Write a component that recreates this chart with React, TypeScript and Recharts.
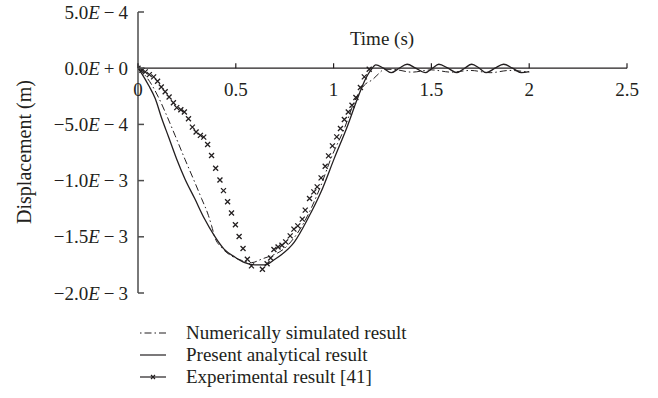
import { LineChart, Line, XAxis, YAxis, ReferenceLine } from "recharts";

const FONT = '"Liberation Serif", "Times New Roman", serif';
const INK = "#231f20";
const AXIS = "#4d4d4d";

// axis ticks
const xTicks = [0, 0.5, 1, 1.5, 2, 2.5];
const xTickLabels = ["0", "0.5", "1", "1.5", "2", "2.5"];
const yTicks = [5e-4, 0, -5e-4, -1e-3, -1.5e-3, -2e-3];
const yMantissa = ["5.0", "0.0", "\u22125.0", "\u22121.0", "\u22121.5", "\u22122.0"];
const ySign = ["\u2212", "+", "\u2212", "\u2212", "\u2212", "\u2212"];
const yExp = ["4", "0", "4", "3", "3", "3"];

// present analytical result (solid)
const analyticalT = [
  0, 0.02, 0.054, 0.088, 0.122, 0.156, 0.198, 0.24, 0.29, 0.34, 0.39, 0.44,
  0.495, 0.546, 0.597, 0.647, 0.7, 0.733, 0.8, 0.868, 0.936, 1.004, 1.072,
  1.122, 1.165, 1.19, 1.216, 1.255, 1.295, 1.335, 1.376, 1.42, 1.47, 1.505,
  1.538, 1.585, 1.63, 1.67, 1.706, 1.745, 1.78, 1.825, 1.869, 1.915, 1.96, 2.0,
];
const analyticalV = [
  0, -0.05e-3, -0.152e-3, -0.27e-3, -0.45e-3, -0.61e-3, -0.81e-3, -0.985e-3,
  -1.16e-3, -1.34e-3, -1.49e-3, -1.61e-3, -1.68e-3, -1.73e-3, -1.75e-3,
  -1.75e-3, -1.7e-3, -1.66e-3, -1.545e-3, -1.34e-3, -1.1e-3, -0.8e-3,
  -0.51e-3, -0.27e-3, -0.09e-3, -0.018e-3, 0.03e-3, 0, -0.04e-3, 0, 0.035e-3,
  0, -0.04e-3, 0, 0.035e-3, 0, -0.04e-3, 0, 0.035e-3, 0, -0.04e-3, 0,
  0.035e-3, 0, -0.04e-3, -0.03e-3,
];

// numerically simulated result (dash-dot)
const numericalT = [
  0, 0.035, 0.071, 0.105, 0.139, 0.19, 0.24, 0.283, 0.325, 0.36, 0.376, 0.393,
  0.427, 0.478, 0.53, 0.58, 0.63, 0.766, 0.851, 0.936, 0.987, 1.055, 1.106,
  1.157, 1.2, 1.23, 1.26, 1.3, 1.4, 1.5, 1.6, 1.7, 1.8, 1.9, 2.0,
];
const numericalV = [
  0, -0.06e-3, -0.15e-3, -0.26e-3, -0.39e-3, -0.6e-3, -0.81e-3, -0.985e-3,
  -1.16e-3, -1.31e-3, -1.4e-3, -1.505e-3, -1.595e-3, -1.67e-3, -1.71e-3,
  -1.73e-3, -1.7e-3, -1.575e-3, -1.365e-3, -1.04e-3, -0.8e-3, -0.536e-3,
  -0.3e-3, -0.151e-3, -0.1e-3, -0.05e-3, -0.01e-3, -0.01e-3, -0.035e-3,
  -0.015e-3, -0.035e-3, -0.02e-3, -0.04e-3, -0.02e-3, -0.035e-3,
];

// experimental result [41] (x markers)
const experimentT = [
  0, 0.02, 0.037, 0.058, 0.08, 0.1, 0.119, 0.139, 0.159, 0.181, 0.198, 0.219,
  0.237, 0.258, 0.278, 0.297, 0.319, 0.336, 0.356, 0.376, 0.397, 0.419, 0.437,
  0.458, 0.478, 0.498, 0.517, 0.537, 0.559, 0.58, 0.636, 0.66, 0.678, 0.695,
  0.716, 0.736, 0.755, 0.778, 0.797, 0.817, 0.84, 0.855, 0.877, 0.899, 0.916,
  0.936, 0.957, 0.974, 0.994, 1.016, 1.035, 1.055, 1.075, 1.094, 1.114, 1.137,
  1.157, 1.182,
];
const experimentV = [
  0, -0.018e-3, -0.033e-3, -0.057e-3, -0.077e-3, -0.116e-3, -0.167e-3,
  -0.21e-3, -0.256e-3, -0.307e-3, -0.351e-3, -0.369e-3, -0.39e-3, -0.449e-3,
  -0.524e-3, -0.568e-3, -0.598e-3, -0.613e-3, -0.679e-3, -0.777e-3, -0.89e-3,
  -0.994e-3, -1.089e-3, -1.188e-3, -1.289e-3, -1.393e-3, -1.497e-3, -1.604e-3,
  -1.7e-3, -1.759e-3, -1.789e-3, -1.74e-3, -1.688e-3, -1.613e-3, -1.59e-3,
  -1.575e-3, -1.545e-3, -1.492e-3, -1.432e-3, -1.403e-3, -1.343e-3, -1.263e-3,
  -1.159e-3, -1.1e-3, -1.056e-3, -0.976e-3, -0.872e-3, -0.78e-3, -0.691e-3,
  -0.611e-3, -0.536e-3, -0.456e-3, -0.389e-3, -0.329e-3, -0.261e-3, -0.172e-3,
  -0.077e-3, -0.009e-3,
];

const toPoints = (ts: number[], vs: number[]) =>
  ts.map((t, i) => ({ t, v: vs[i] }));

const analytical = toPoints(analyticalT, analyticalV);
const numerical = toPoints(numericalT, numericalV);
const experiment = toPoints(experimentT, experimentV);

const W = 658;
const H = 398;
const PLOT_TOP = 12;
const PLOT_BOTTOM = 293;
const Y_MIN = -2e-3;
const Y_MAX = 5e-4;
const ZERO_Y =
  PLOT_TOP + (PLOT_BOTTOM - PLOT_TOP) * (Y_MAX / (Y_MAX - Y_MIN));
const FS = 19;

function XTick({ x, payload }: any) {
  const i = xTicks.indexOf(payload.value);
  return (
    <g>
      <line x1={x} x2={x} y1={ZERO_Y} y2={ZERO_Y - 5} stroke={INK} strokeWidth={1.2} />
      <text
        x={x}
        y={ZERO_Y + 28}
        textAnchor="middle"
        fontFamily={FONT}
        fontSize={FS}
        fill={INK}
      >
        {xTickLabels[i]}
      </text>
    </g>
  );
}

function YTick({ x, y, payload }: any) {
  const i = yTicks.findIndex((v) => Math.abs(v - payload.value) < 1e-9);
  return (
    <g>
      <line x1={x} x2={x + 6} y1={y} y2={y} stroke={AXIS} strokeWidth={1.5} />
      <text
        x={x - 10}
        y={y + 6.5}
        textAnchor="end"
        fontFamily={FONT}
        fontSize={FS}
        fill={INK}
      >
        {yMantissa[i]}
        <tspan fontStyle="italic">E</tspan>
        <tspan dx={4}>{ySign[i]}</tspan>
        <tspan dx={4}>{yExp[i]}</tspan>
      </text>
    </g>
  );
}

function Cross({ cx, cy, index }: any) {
  const s = 2.5;
  return (
    <path
      key={`x-${index}`}
      d={`M${cx - s},${cy - s}L${cx + s},${cy + s}M${cx - s},${cy + s}L${cx + s},${cy - s}`}
      stroke={INK}
      strokeWidth={1.3}
      fill="none"
    />
  );
}

const legendRows = [
  { label: "Numerically simulated result", kind: "dashdot" },
  { label: "Present analytical result", kind: "solid" },
  { label: "Experimental result [41]", kind: "cross" },
];

function LegendIcon({ kind }: { kind: string }) {
  return (
    <svg width={30} height={12} style={{ display: "block" }}>
      <line
        x1={2}
        x2={28}
        y1={6}
        y2={6}
        stroke={INK}
        strokeWidth={1.2}
        strokeDasharray={kind === "dashdot" ? "1.5 3 7 3" : undefined}
      />
      {kind === "cross" && (
        <path d="M13,4L17,8M13,8L17,4" stroke={INK} strokeWidth={1.2} />
      )}
    </svg>
  );
}

export default function App() {
  return (
    <div
      style={{
        position: "absolute",
        left: 0,
        top: 0,
        width: W,
        height: H,
        background: "#fff",
        fontFamily: FONT,
        color: INK,
      }}
    >
      <LineChart
        width={W}
        height={H}
        margin={{ top: PLOT_TOP, right: 31, bottom: H - PLOT_BOTTOM - 20, left: 0 }}
      >
        <XAxis
          dataKey="t"
          type="number"
          domain={[0, 2.5]}
          ticks={xTicks}
          interval={0}
          height={20}
          axisLine={false}
          tickLine={false}
          tick={<XTick />}
          allowDataOverflow
        />
        <YAxis
          type="number"
          domain={[Y_MIN, Y_MAX]}
          ticks={yTicks}
          interval={0}
          width={138}
          tickSize={0}
          tickMargin={0}
          tickLine={false}
          axisLine={{ stroke: AXIS, strokeWidth: 1.5 }}
          tick={<YTick />}
          allowDataOverflow
        />
        <ReferenceLine y={0} stroke={INK} strokeWidth={1.2} />
        <Line
          data={numerical}
          dataKey="v"
          type="monotone"
          stroke={INK}
          strokeWidth={1}
          strokeDasharray="7 3 1.5 3"
          dot={false}
          isAnimationActive={false}
        />
        <Line
          data={analytical}
          dataKey="v"
          type="monotone"
          stroke={INK}
          strokeWidth={1.3}
          dot={false}
          isAnimationActive={false}
        />
        <Line
          data={experiment}
          dataKey="v"
          stroke="none"
          dot={<Cross />}
          isAnimationActive={false}
        />
      </LineChart>

      <div
        style={{
          position: "absolute",
          left: 382,
          top: 28,
          transform: "translateX(-50%)",
          fontSize: FS,
          whiteSpace: "nowrap",
        }}
      >
        Time (s)
      </div>

      <div
        style={{
          position: "absolute",
          left: 24,
          top: 152,
          transform: "translate(-50%, -50%) rotate(-90deg)",
          fontSize: 20,
          whiteSpace: "nowrap",
        }}
      >
        Displacement (m)
      </div>

      <div style={{ position: "absolute", left: 138, top: 322 }}>
        {legendRows.map((r) => (
          <div
            key={r.label}
            style={{
              display: "flex",
              alignItems: "center",
              height: 22,
              fontSize: FS,
              whiteSpace: "nowrap",
            }}
          >
            <LegendIcon kind={r.kind} />
            <span style={{ marginLeft: 18 }}>{r.label}</span>
          </div>
        ))}
      </div>
    </div>
  );
}
